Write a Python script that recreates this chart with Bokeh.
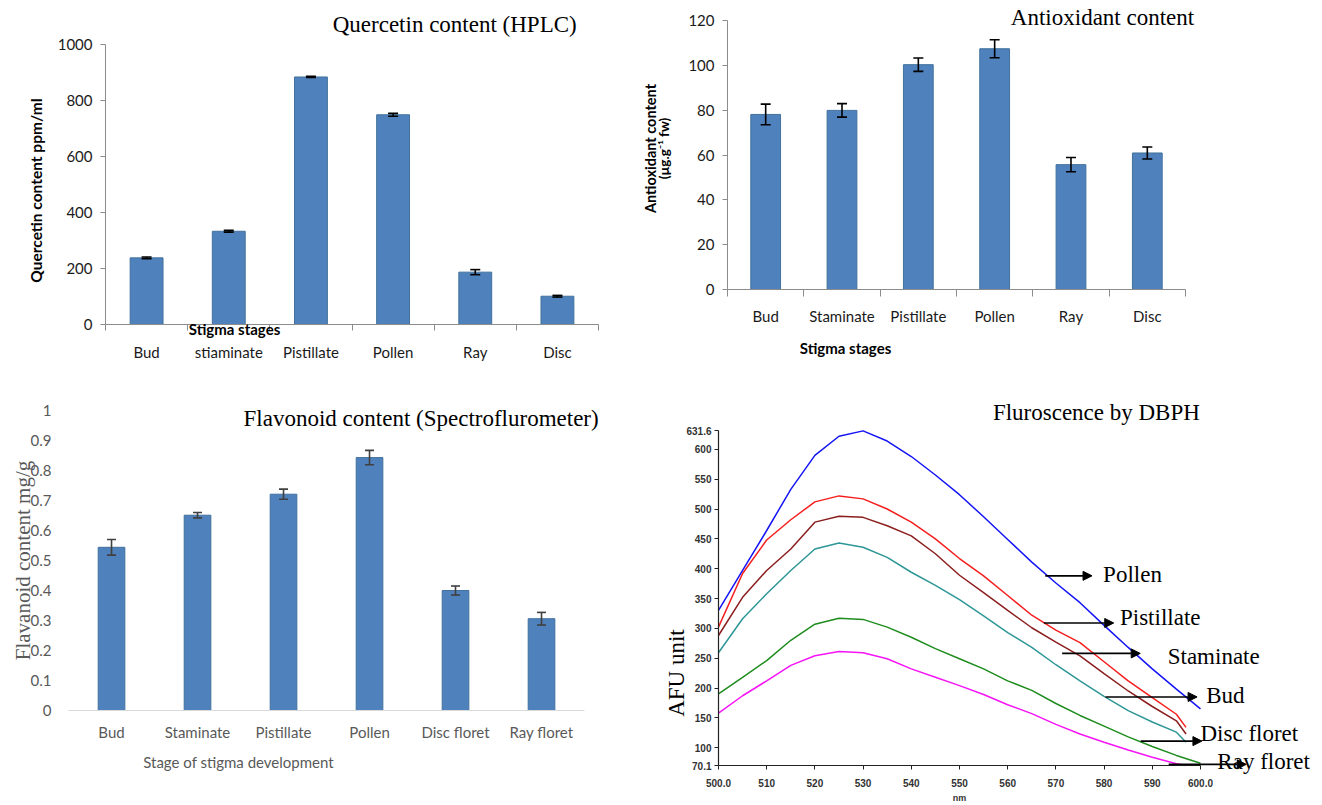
import math
from bokeh.plotting import figure
from bokeh.models import (ColumnDataSource, Whisker, TeeHead, Label, Arrow, NormalHead,
                          FixedTicker, Range1d, CustomJSTickFormatter)
from bokeh.layouts import column, row
from bokeh.embed import file_html
from bokeh.resources import INLINE

# ---------------- data ----------------
quer_cats = ["Bud", "stiaminate", "Pistillate", "Pollen", "Ray", "Disc"]
quer_vals = [238, 333, 884, 749, 187, 101]
quer_err = [3, 3, 2, 5, 9, 3]

anti_cats = ["Bud", "Staminate", "Pistillate", "Pollen", "Ray", "Disc"]
anti_vals = [78.1, 79.9, 100.3, 107.4, 55.7, 60.9]
anti_err = [4.6, 3.0, 3.0, 4.0, 3.2, 2.7]

flav_cats = ["Bud", "Staminate", "Pistillate", "Pollen", "Disc floret", "Ray floret"]
flav_vals = [0.544, 0.651, 0.721, 0.843, 0.400, 0.306]
flav_err = [0.026, 0.009, 0.017, 0.024, 0.015, 0.021]

wl_full = [500, 505, 510, 515, 520, 525, 530, 535, 540, 545, 550,
           555, 560, 565, 570, 575, 580, 585, 590, 595, 600]
wl_short = [500, 505, 510, 515, 520, 525, 530, 535, 540, 545, 550,
            555, 560, 565, 570, 575, 580, 585, 590, 595, 597]
afu_pollen = [330, 397, 464, 533, 590, 622, 631, 614, 588, 557, 524,
              487, 449, 411, 376, 343, 305, 268, 232, 198, 165]
afu_pistillate = [302, 392, 448, 482, 512, 522, 517, 500, 478, 450, 417,
                  388, 355, 322, 297, 276, 244, 212, 184, 156, 134]
afu_staminate = [288, 352, 397, 433, 478, 488, 486, 472, 455, 425, 389,
                 360, 330, 301, 277, 254, 224, 195, 169, 145, 123]
afu_bud = [259, 316, 358, 397, 433, 443, 436, 419, 394, 372, 348,
           321, 293, 268, 239, 212, 186, 162, 143, 126, 109]
afu_disc = [190, 218, 246, 280, 307, 317, 315, 302, 285, 266, 249,
            232, 212, 196, 174, 154, 136, 118, 102, 87, 74]
afu_ray = [158, 187, 212, 238, 254, 261, 259, 249, 232, 218, 204,
           189, 172, 157, 139, 123, 109, 96, 84, 73, 70]
afu_ticks = [70.1, 100, 150, 200, 250, 300, 350, 400, 450, 500, 550, 600, 631.6]
nm_ticks = [500, 510, 520, 530, 540, 550, 560, 570, 580, 590, 600]

BAR = "#4F81BD"
BAR_LINE = "#41719C"
SERIF = "Liberation Serif"
SANS = "Lato"


def lab(p, x, y, text, size, font=SERIF, style="normal", color="black",
        angle=0.0, align="center", baseline="middle"):
    p.add_layout(Label(x=x, y=y, text=text, text_font=font,
                       text_font_size=f"{size}px", text_font_style=style,
                       text_color=color, angle=angle, text_align=align,
                       text_baseline=baseline))


def base_fig(w, h, xr, yr):
    # frame fills the whole canvas; axes are pinned with fixed_location
    p = figure(width=w, height=h, x_range=Range1d(*xr), y_range=Range1d(*yr),
               output_backend="svg", toolbar_location=None)
    p.title.visible = False
    p.min_border = 0
    p.min_border_left = 0
    p.min_border_right = 0
    p.min_border_top = 0
    p.min_border_bottom = 0
    p.outline_line_color = None
    p.xgrid.visible = False
    p.ygrid.visible = False
    p.background_fill_color = "white"
    p.border_fill_color = "white"
    return p


def bar_panel(p, cats, vals, errs, width, err_color, cap):
    xs = list(range(len(cats)))
    src = ColumnDataSource(dict(
        x=xs, top=vals,
        upper=[v + e for v, e in zip(vals, errs)],
        lower=[v - e for v, e in zip(vals, errs)]))
    p.vbar(x="x", top="top", width=width, bottom=0, source=src,
           fill_color=BAR, line_color=BAR_LINE, line_width=1)
    wk = Whisker(source=src, base="x", upper="upper", lower="lower",
                 line_color=err_color, line_width=1.6, level="annotation",
                 upper_head=TeeHead(size=cap, line_color=err_color, line_width=1.6),
                 lower_head=TeeHead(size=cap, line_color=err_color, line_width=1.6))
    p.add_layout(wk)
    p.xaxis.ticker = FixedTicker(ticks=xs, minor_ticks=[i - 0.5 for i in range(len(cats) + 1)])
    p.xaxis.major_label_overrides = {i: c for i, c in enumerate(cats)}
    p.xaxis.fixed_location = 0
    p.xaxis.bounds = (-0.5, len(cats) - 0.5)
    p.yaxis.fixed_location = -0.5


# ---------------- panel 1: Quercetin ----------------
p1 = base_fig(640, 375, (-1.778, 6.011), (-182.1, 1157.1))
bar_panel(p1, quer_cats, quer_vals, quer_err, 0.4, "black", 10)
p1.yaxis.ticker = FixedTicker(ticks=[0, 200, 400, 600, 800, 1000])
p1.yaxis.bounds = (0, 1000)
for ax in (p1.xaxis[0], p1.yaxis[0]):
    ax.axis_line_color = "#8C8C8C"
    ax.major_label_text_font = SANS
    ax.major_label_text_font_size = "15px"
    ax.major_label_text_color = "#1A1A1A"
p1.yaxis.major_tick_out = 5
p1.yaxis.major_tick_in = 0
p1.yaxis.major_tick_line_color = "#8C8C8C"
p1.yaxis.minor_tick_line_color = None
p1.yaxis.major_label_standoff = 8
p1.xaxis.major_tick_line_color = None
p1.xaxis.minor_tick_out = 6
p1.xaxis.minor_tick_in = 0
p1.xaxis.minor_tick_line_color = "#8C8C8C"
p1.xaxis.major_label_standoff = 12
lab(p1, 3.75, 1071, "Quercetin content (HPLC)", 23)
lab(p1, -1.352, 485, "Quercetin content  ppm/ml", 15.5, font=SANS, style="bold",
    angle=math.pi / 2)
lab(p1, 1.07, -14.3, "Stigma stages", 15, font=SANS, style="bold")

# ---------------- panel 2: Antioxidant ----------------
p2 = base_fig(680, 375, (-1.640, 7.269), (-38.36, 128.92))
bar_panel(p2, anti_cats, anti_vals, anti_err, 0.39, "black", 10)
p2.yaxis.ticker = FixedTicker(ticks=[0, 20, 40, 60, 80, 100, 120])
p2.yaxis.bounds = (0, 120)
for ax in (p2.xaxis[0], p2.yaxis[0]):
    ax.axis_line_color = "#8C8C8C"
    ax.major_label_text_font = SANS
    ax.major_label_text_font_size = "15px"
    ax.major_label_text_color = "#1A1A1A"
p2.yaxis.major_tick_out = 5
p2.yaxis.major_tick_in = 0
p2.yaxis.major_tick_line_color = "#8C8C8C"
p2.yaxis.minor_tick_line_color = None
p2.yaxis.major_label_standoff = 8
p2.xaxis.major_tick_line_color = None
p2.xaxis.minor_tick_out = 7
p2.xaxis.minor_tick_in = 0
p2.xaxis.minor_tick_line_color = "#8C8C8C"
p2.xaxis.major_label_standoff = 10
lab(p2, 4.413, 121.3, "Antioxidant content", 23)
lab(p2, -1.509, 62.9, "Antioxidant content", 14.5, font=SANS, style="bold",
    angle=math.pi / 2)
lab(p2, -1.326, 62.9, "(\u00b5g.g\u207b\u00b9 fw)", 13.5, font=SANS, style="bold",
    angle=math.pi / 2)
lab(p2, 1.046, -26.3, "Stigma stages", 15, font=SANS, style="bold")

# ---------------- panel 3: Flavonoid ----------------
p3 = base_fig(640, 428, (-1.291, 6.151), (-0.31, 1.1167))
bar_panel(p3, flav_cats, flav_vals, flav_err, 0.31, "#404040", 9)
p3.yaxis.ticker = FixedTicker(ticks=[0, 0.1, 0.2, 0.3, 0.4, 0.5, 0.6, 0.7, 0.8, 0.9, 1])
p3.yaxis.formatter = CustomJSTickFormatter(code="return tick.toString();")
p3.yaxis.bounds = (0, 1)
p3.yaxis.axis_line_color = None
p3.yaxis.major_tick_line_color = None
p3.yaxis.minor_tick_line_color = None
p3.yaxis.major_label_standoff = 11
p3.xaxis.axis_line_color = "#D9D9D9"
p3.xaxis.major_tick_line_color = None
p3.xaxis.minor_tick_line_color = None
p3.xaxis.major_label_standoff = 6
for ax in (p3.xaxis[0], p3.yaxis[0]):
    ax.major_label_text_font = SANS
    ax.major_label_text_font_size = "15px"
    ax.major_label_text_color = "#595959"
lab(p3, 3.6, 0.973, "Flavonoid content (Spectroflurometer)", 23)
lab(p3, -1.035, 0.5, "Flavanoid content mg/g", 21, color="#595959",
    angle=math.pi / 2)
lab(p3, 1.477, -0.173, "Stage of stigma development", 15, font=SANS, color="#595959")

# ---------------- panel 4: Fluorescence ----------------
p4 = base_fig(680, 428, (483.82, 624.90), (6.41, 723.8))
series = [
    (wl_full, afu_pollen, "#1414F5"),
    (wl_short, afu_pistillate, "#F51E1E"),
    (wl_short, afu_staminate, "#8B1E1E"),
    (wl_short, afu_bud, "#2E9696"),
    (wl_full, afu_disc, "#1E8C1E"),
    (wl_short, afu_ray, "#F514F5"),
]
for xs, ys, col in series:
    p4.line(xs, ys, line_color=col, line_width=1.5)
p4.xaxis.ticker = FixedTicker(ticks=nm_ticks)
p4.xaxis.formatter = CustomJSTickFormatter(
    code="return (tick == 500 || tick == 600) ? tick.toFixed(1) : tick.toString();")
p4.xaxis.fixed_location = 70.1
p4.xaxis.bounds = (500, 600)
p4.yaxis.ticker = FixedTicker(ticks=afu_ticks)
p4.yaxis.formatter = CustomJSTickFormatter(code="return tick.toString();")
p4.yaxis.fixed_location = 500
p4.yaxis.bounds = (70.1, 631.6)
for ax in (p4.xaxis[0], p4.yaxis[0]):
    ax.axis_line_color = "#222222"
    ax.axis_line_width = 1.2
    ax.major_tick_line_color = "#222222"
    ax.major_tick_out = 4
    ax.major_tick_in = 0
    ax.minor_tick_line_color = None
    ax.major_label_text_font = "Liberation Sans"
    ax.major_label_text_font_style = "bold"
    ax.major_label_text_font_size = "10px"
    ax.major_label_text_color = "#333333"
    ax.major_label_standoff = 3
p4.xaxis.major_label_standoff = 9
lab(p4, 550, 14.8, "nm", 9, font="Liberation Sans", style="bold", color="#333333")
lab(p4, 578.4, 661.8, "Fluroscence by DBPH", 23)
lab(p4, 491.3, 225, "AFU unit", 23, angle=math.pi / 2)

arrows = [
    ((567.8, 388), (577.5, 388), "Pollen", (579.8, 391)),
    ((567.5, 309), (582.0, 309), "Pistillate", (583.3, 317.5)),
    ((571.3, 258), (587.5, 258), "Staminate", (593.2, 252.7)),
    ((580.3, 185), (599.3, 185), "Bud", (601.2, 187.4)),
    ((587.6, 111), (600.3, 111), "Disc floret", (600.0, 124.2)),
    ((593.4, 72), (609.5, 72), "Ray floret", (603.5, 76.6)),
]
for (xs0, ys0), (xe, ye), name, (lx, ly) in arrows:
    p4.add_layout(Arrow(x_start=xs0, y_start=ys0, x_end=xe, y_end=ye,
                        line_color="black", line_width=1.6,
                        end=NormalHead(size=9, fill_color="black", line_color="black")))
    lab(p4, lx, ly, name, 23, align="left")

layout = column(row(p1, p2, spacing=0), row(p3, p4, spacing=0), spacing=0)

with open("out.html", "w") as f:
    f.write(file_html(layout, INLINE))
